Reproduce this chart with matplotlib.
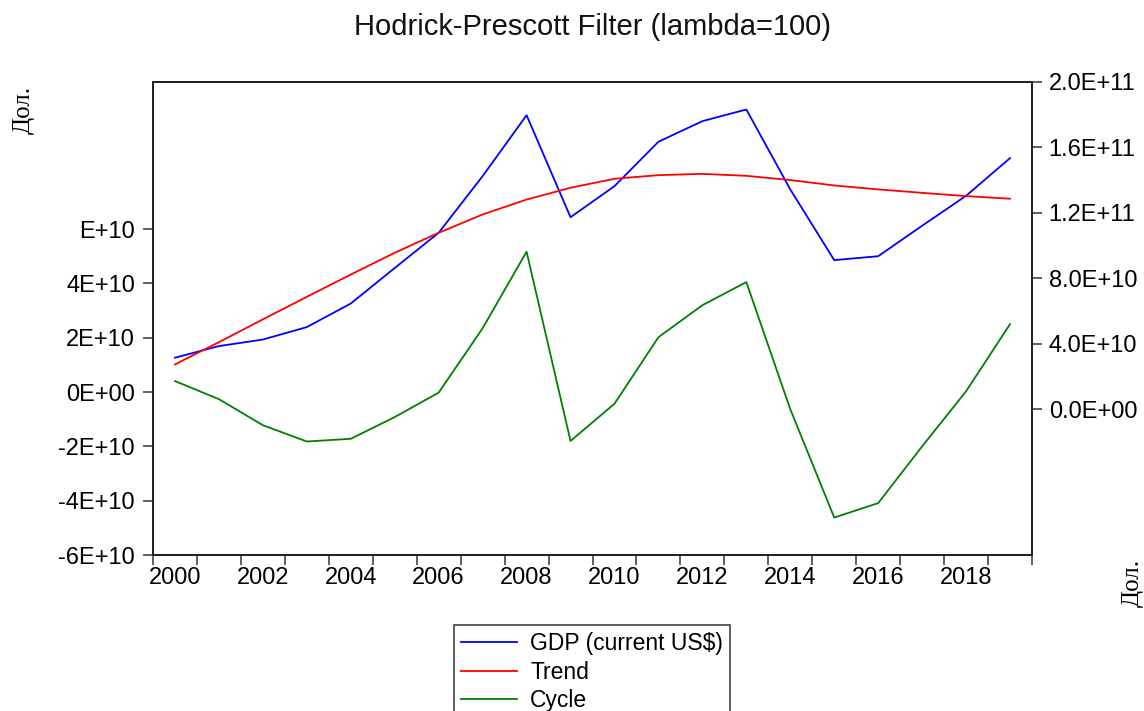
"""
Hodrick-Prescott filtri (lambda=100) — YaIM, trend va tsikl.
"""
import numpy as np
import matplotlib
matplotlib.use("Agg")
import matplotlib.pyplot as plt

plt.rcParams["font.family"] = ["Liberation Sans", "DejaVu Sans"]

# Ma'lumotlar (rasmdan o'qilgan)
YEARS = list(range(2000, 2020))
GDP = [3.16e10, 3.87e10, 4.27e10, 5.03e10, 6.47e10, 8.64e10, 1.079e11, 1.425e11,
       1.797e11, 1.174e11, 1.364e11, 1.635e11, 1.761e11, 1.832e11, 1.344e11,
       9.12e10, 9.36e10, 1.122e11, 1.305e11, 1.535e11]
TREND = [2.75e10, 4.11e10, 5.50e10, 6.88e10, 8.24e10, 9.57e10, 1.079e11, 1.191e11,
         1.282e11, 1.354e11, 1.409e11, 1.431e11, 1.439e11, 1.427e11, 1.401e11,
         1.368e11, 1.344e11, 1.323e11, 1.303e11, 1.287e11]
CYCLE = [4.05e9, -2.6e9, -1.22e10, -1.82e10, -1.72e10, -9.2e9, -2e8, 2.35e10,
         5.17e10, -1.8e10, -4.3e9, 2.02e10, 3.2e10, 4.05e10, -6.3e9,
         -4.62e10, -4.09e10, -2.0e10, 3e8, 2.5e10]

LEFT_TICKS = [-6e10, -4e10, -2e10, 0, 2e10, 4e10, 6e10]
LEFT_LABELS = ["-6E+10", "-4E+10", "-2E+10", "0E+00", "2E+10", "4E+10", "E+10"]
RIGHT_TICKS = [0, 4e10, 8e10, 1.2e11, 1.6e11, 2.0e11]
RIGHT_LABELS = ["0.0E+00", "4.0E+10", "8.0E+10", "1.2E+11", "1.6E+11", "2.0E+11"]
X_LABEL_YEARS = list(range(2000, 2020, 2))

TICK_CLR = "#444444"

# === FIGURE ===
fig = plt.figure(figsize=(11.44, 7.11), dpi=100, facecolor="white")
ax = fig.add_axes([153/1144, 1-555/711, 879/1144, 473/711])
ax2 = ax.twinx()

l3, = ax.plot(YEARS, CYCLE, color="#008000", lw=1.3, label="Cycle")
l1, = ax2.plot(YEARS, GDP, color="#0000ff", lw=1.3, label="GDP (current US$)")
l2, = ax2.plot(YEARS, TREND, color="#ff0000", lw=1.3, label="Trend")

ax.set_xlim(1999.5, 2019.5)
ax.set_ylim(-6e10, 1.142e11)
ax2.set_ylim(-8.89e10, 2.0e11)

# X o'qi: yil chegaralarida belgilar, yorliqlar yil markazida
ax.set_xticks(X_LABEL_YEARS)
ax.set_xticklabels([str(y) for y in X_LABEL_YEARS], fontsize=17)
ax.set_xticks(np.arange(1999.5, 2020, 1.0), minor=True)
ax.tick_params(axis="x", which="major", length=0, pad=9)
ax.tick_params(axis="x", which="minor", length=7, width=1.2,
               direction="out", color=TICK_CLR)

ax.set_yticks(LEFT_TICKS)
ax.set_yticklabels(LEFT_LABELS, fontsize=17)
ax.tick_params(axis="y", length=7, width=1.2, direction="out",
               color=TICK_CLR, pad=6)

ax2.set_yticks(RIGHT_TICKS)
ax2.set_yticklabels(RIGHT_LABELS, fontsize=17)
ax2.tick_params(axis="y", length=7, width=1.2, direction="out",
                color=TICK_CLR, pad=5)

for a in (ax, ax2):
    for spine in a.spines.values():
        spine.set_color("#222222")
        spine.set_linewidth(1.3)

# === SARLAVHA ===
fig.text(592/1144, 1-27/711, "Hodrick-Prescott Filter (lambda=100)",
         fontsize=21, ha="center", va="center", color="#111111")

# O'q yorliqlari
fig.text(24/1144, 1-110/711, "Дол.", rotation=90, fontsize=18,
         family="Liberation Serif", ha="center", va="center")
fig.text(1133/1144, 1-583/711, "Дол.", rotation=90, fontsize=18,
         family="Liberation Serif", ha="center", va="center")

# === LEGEND ===
leg = fig.legend(handles=[l1, l2, l3], loc="upper center",
                 bbox_to_anchor=(592/1144, 1-625/711), fontsize=16.5,
                 fancybox=False, framealpha=1, edgecolor="#444444",
                 handlelength=2.45, handletextpad=0.57, labelspacing=0.25,
                 borderpad=0.3, borderaxespad=0)
leg.get_frame().set_linewidth(1.2)

plt.savefig("out.png", dpi=100, facecolor="white")
plt.close()
